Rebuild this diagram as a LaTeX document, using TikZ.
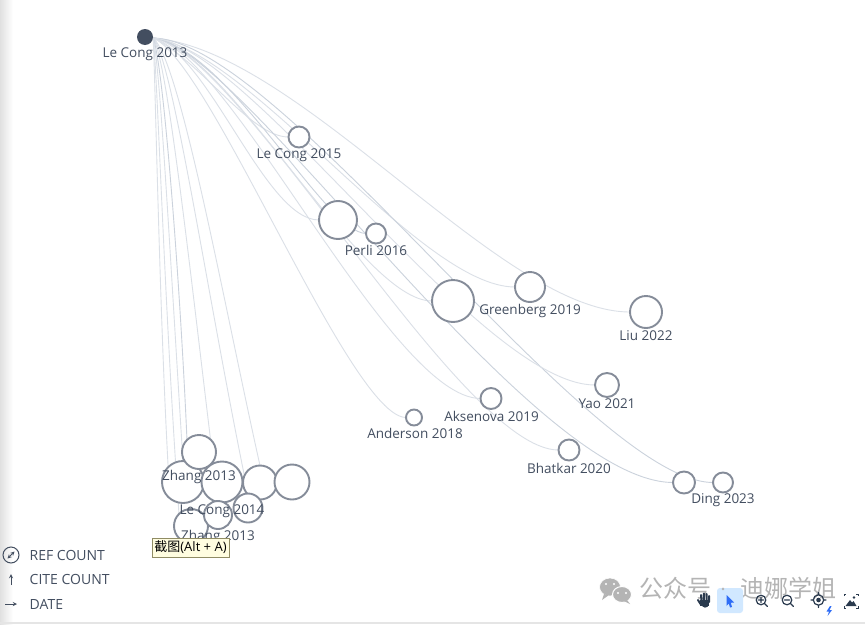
\documentclass[tikz,border=0pt]{standalone}
\usepackage{fontspec}
\setmainfont{Open Sans}
\newfontfamily\cjkf{Noto Sans CJK SC}
\usetikzlibrary{backgrounds}
\definecolor{ink}{HTML}{434E60}
\definecolor{ring}{HTML}{858C99}
\definecolor{edgec}{HTML}{DBE0E7}
\definecolor{edged}{HTML}{CBD2DC}
\definecolor{wm}{HTML}{B4B4B4}
\definecolor{tool}{HTML}{2A3A4E}
\definecolor{blueic}{HTML}{2F6DF6}
\tikzset{
 bub/.style={circle,draw=ring,fill=white,line width=1.9pt,inner sep=0pt,outer sep=0pt,minimum size=#1},
 lab/.style={font=\fontsize{13.5}{15}\selectfont,text=ink,inner sep=0pt},
 leg/.style={font=\fontsize{14}{16}\selectfont,text=ink,inner sep=0pt,anchor=west},
 edge/.style={draw=edgec,line width=0.9pt},
 edgeb/.style={draw=edged,line width=0.9pt},
 ico/.style={draw=tool,line width=1.2pt,line cap=round},
 wmt/.style={font=\cjkf\fontsize{24}{26}\selectfont,text=wm,inner sep=0pt}
}
\begin{document}
\begin{tikzpicture}[x=1pt,y=-1pt]
\useasboundingbox (0,0) rectangle (865,624);
% nodes
\node[circle,fill=ink,inner sep=0pt,outer sep=0pt,minimum size=16pt] (src) at (145,37) {};
\node[bub=21pt] (lc15) at (299,137) {};
\node[bub=38pt] (bigA) at (338,220) {};
\node[bub=20pt] (perli) at (376,233.5) {};
\node[bub=42pt] (bigB) at (453,301) {};
\node[bub=30pt] (green) at (530,287) {};
\node[bub=32pt] (liu) at (646,312) {};
\node[bub=24pt] (yao) at (607,385) {};
\node[bub=21pt] (aks) at (491,398.5) {};
\node[bub=16pt] (ander) at (414,417.5) {};
\node[bub=21pt] (bhat) at (569,450) {};
\node[bub=22pt] (dingA) at (684,482.5) {};
\node[bub=20pt] (dingB) at (723,482.5) {};
\node[bub=42pt] (zhB) at (183,482) {};
\node[bub=41pt] (zhC) at (222,482) {};
\node[bub=34pt] (nD) at (260,482.5) {};
\node[bub=35pt] (nE) at (292,482) {};
\node[bub=29pt] (nF) at (248,508) {};
\node[bub=34pt] (nH) at (191,526) {};
\node[bub=28pt] (nG) at (218,515) {};
\node[bub=34pt] (zhA) at (199,452) {};
% edges
\begin{scope}[on background layer]
\fill[white] (0,0) rectangle (865,624);
\shade[left color=black!12,right color=white] (0,0) rectangle (13,624);
\fill[black!10] (0,621.5) rectangle (865,624);
\coordinate (s) at (153,38);
\draw[edge] (s) .. controls (300,50) and (500,312) .. (liu.west);
\draw[edge] (s) .. controls (250,50) and (420,287) .. (green.west);
\draw[edge] (s) .. controls (230,50) and (360,301) .. (bigB.west);
\draw[edge] (s) .. controls (210,55) and (265,220) .. (bigA.west);
\draw[edge] (s) .. controls (200,60) and (250,137) .. (lc15.west);
\draw[edgeb] (s) .. controls (230,50) and (325,233) .. (perli.west);
\draw[edge] (s) .. controls (210,60) and (350,417) .. (ander.west);
\draw[edge] (s) .. controls (230,50) and (390,398) .. (aks.west);
\draw[edge] (s) .. controls (240,50) and (460,450) .. (bhat.west);
\draw[edgeb] (s) .. controls (240,45) and (530,482) .. (dingA.west);
\draw[edgeb] (s) .. controls (280,40) and (590,482) .. (dingB.west);
\draw[edge] (s) .. controls (250,45) and (480,385) .. (yao.west);
\draw[edge] (s) .. controls (180,60) and (223,300) .. (nD.north);
\draw[edge] (s) .. controls (173,60) and (206,290) .. (nF.north);
\draw[edge] (s) .. controls (168,60) and (192,290) .. (nG.north);
\draw[edgeb] (s) .. controls (163,60) and (180,280) .. (zhA.north west);
\draw[edge] (s) .. controls (160,60) and (172,290) .. (zhB.north);
\draw[edge] (s) .. controls (157,60) and (164,300) .. (nH.north west);
\draw[edge] (s) .. controls (155,60) and (159,300) .. (zhB.north west);
\end{scope}
% labels
\node[lab] (l1) at (145,54) {Le Cong 2013};
\node[lab] (l2) at (299,155) {Le Cong 2015};
\node[lab] (l3) at (376,250.5) {Perli 2016};
\node[lab] (l4) at (530,310.5) {Greenberg 2019};
\node[lab] (l5) at (646,335.5) {Liu 2022};
\node[lab] (l6) at (607,404) {Yao 2021};
\node[lab] (l7) at (491.5,416.5) {Aksenova 2019};
\node[lab] (l8) at (415,433) {Anderson 2018};
\node[lab] (l9) at (569,468) {Bhatkar 2020};
\node[lab] (l10) at (723,500) {Ding 2023};
\node[lab] (l11) at (199,476.5) {Zhang 2013};
\node[lab] (l12) at (222,511.5) {Le Cong 2014};
\node[lab] (l13) at (218,536.5) {Zhang 2013};
% tooltip
\node[draw=black!50!yellow!60!gray,fill=yellow!12,line width=0.5pt,inner sep=0pt,minimum width=77pt,minimum height=19pt,text=black,font=\fontsize{13}{15}\selectfont] (tip) at (190.5,547.5) {{\cjkf 截图}(Alt + A)};
% legend
\draw[ink,line width=1pt] (11,555) circle (8);
\draw[ink,line width=0.9pt,<->,>=stealth] (7.5,558.5) -- (14.5,551.5);
\draw[ink,line width=0.9pt,->,>=stealth] (11,585) -- (11,574);
\draw[ink,line width=0.9pt,->,>=stealth] (5,604) -- (17,604);
\node[leg] (lg1) at (29.5,555.5) {REF COUNT};
\node[leg] (lg2) at (29.5,579.5) {CITE COUNT};
\node[leg] (lg3) at (29.5,604.5) {DATE};
% watermark
\fill[wm,draw=white,line width=0.6pt] (610,587) ellipse (10.5 and 9);
\fill[wm] (604,594) -- (602,600) -- (609,595) -- cycle;
\fill[wm,draw=white,line width=1pt] (622,594.5) ellipse (9.5 and 8);
\fill[wm] (627,600) -- (630,604) -- (624,601) -- cycle;
\fill[white] (606,584) circle (1.2) (614,584) circle (1.2) (618,593) circle (1.1) (626,593) circle (1.1);
\node[wmt] (wm1) at (675,588) {公众号};
\fill[wm] (723,589) circle (1.3);
\node[wmt] (wm2) at (788,588) {迪娜学姐};
% toolbar
\fill[tool] (700,600) rectangle (709,606);
\fill[tool] (701,603) .. controls (702,609) and (708,609) .. (709,604) -- cycle;
\draw[tool,line width=2pt,line cap=round] (701.5,601) -- (701,595) (704,601) -- (703.8,593.5) (706.5,601) -- (706.5,594) (709,602) -- (709,596) (700.5,604) -- (698,600);
\fill[blue!50!cyan!18,rounded corners=3pt] (717,588) rectangle (743,613);
\fill[wm] (723,589) circle (1.3);
\fill[blueic] (726.5,595) -- (734,602.5) -- (730.8,602.8) -- (732,607) -- (730,607.5) -- (728.8,603.5) -- (726.5,606) -- cycle;
\draw[ico] (761,600) circle (4.8) (764.5,603.5) -- (767.5,606.5) (758.5,600) -- (763.5,600) (761,597.5) -- (761,602.5);
\draw[ico] (787,600) circle (4.8) (790.5,603.5) -- (793.5,606.5) (784.5,600) -- (789.5,600);
\draw[ico] (818.5,600) circle (5.2) (818.5,592.5) -- (818.5,594.5) (818.5,605.5) -- (818.5,607.5) (811,600) -- (813,600) (824,600) -- (826,600);
\fill[tool] (818.5,600) circle (2.3);
\fill[blueic] (830,606) -- (826.5,611.5) -- (829,611.5) -- (827.5,616) -- (832,610) -- (829.5,610) -- (831.5,606) -- cycle;
\draw[tool,line width=1pt] (844,596) -- (844,594) -- (846,594) (856,594) -- (858,594) -- (858,596) (844,606) -- (844,608) -- (846,608) (856,608) -- (858,608) -- (858,606);
\fill[tool] (845.5,606) -- (850,600) -- (852,602.5) -- (853.5,601) -- (856.5,606) -- cycle;
\fill[tool] (854,597.5) circle (1.3);
\end{tikzpicture}
\end{document}
